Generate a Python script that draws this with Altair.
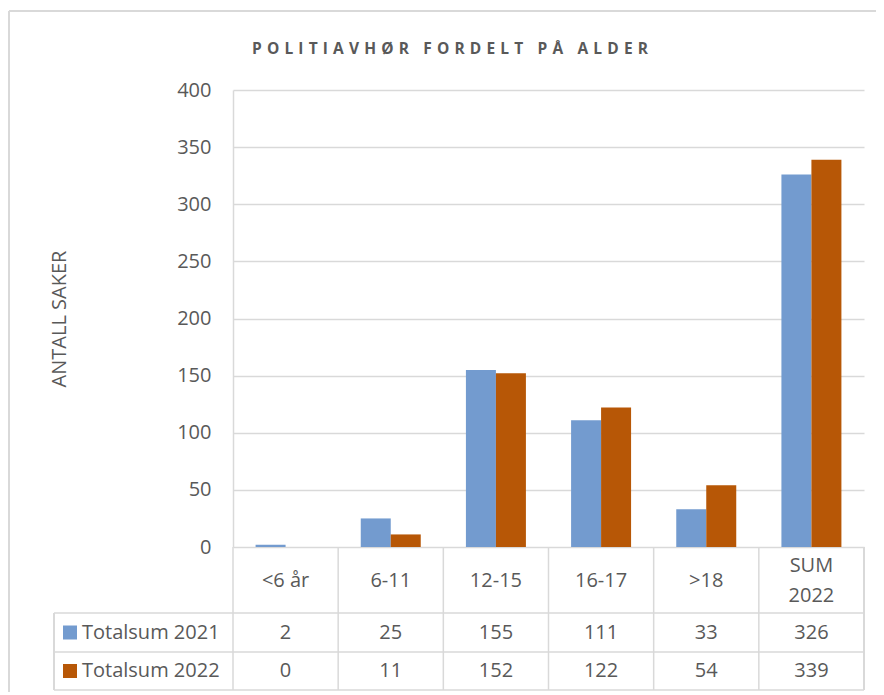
import altair as alt
import pandas as pd

# ---- data ----
categories = ["<6 år", "6-11", "12-15", "16-17", ">18", "SUM 2022"]
category_labels = ["<6 år", "6-11", "12-15", "16-17", ">18", "SUM\n2022"]
series = ["Totalsum 2021", "Totalsum 2022"]
values_2021 = [2, 25, 155, 111, 33, 326]
values_2022 = [0, 11, 152, 122, 54, 339]
y_ticks = [0, 50, 100, 150, 200, 250, 300, 350, 400]
colors = ["#739BCF", "#B75706"]
title_text = "POLITIAVHØR FORDELT PÅ ALDER"
y_title = "ANTALL SAKER"

# ---- layout constants (pixels) ----
W, H = 631, 457
PL, PT, PR, PB = 225, 82, 12, 145
ROW_TOP = [457, 523, 562, 600]          # table row boundaries (plot coords)
LEG_X = -179                             # left edge of legend column
FRAME_X, FRAME_Y = -224, -79
LINE_H = 30
GRID = "#D9D9D9"
TXT = "#595959"
FONT = "Open Sans"

rows = []
for s, vals in zip(series, [values_2021, values_2022]):
    for c, v in zip(categories, vals):
        rows.append({"cat": c, "series": s, "value": v})
df = pd.DataFrame(rows)

row_center = {series[0]: (ROW_TOP[1] + ROW_TOP[2]) / 2,
              series[1]: (ROW_TOP[2] + ROW_TOP[3]) / 2}
df["py"] = df["series"].map(row_center)

cat_df = pd.DataFrame({"cat": categories, "label": category_labels})
cat_center = (ROW_TOP[0] + ROW_TOP[1]) / 2 + 1
cat_df["py"] = [cat_center - (lab.count("\n")) * LINE_H / 2 for lab in category_labels]
leg_df = pd.DataFrame({"series": series})
leg_df["py"] = leg_df["series"].map(row_center)
hline_df = pd.DataFrame({"py": ROW_TOP[1:]})

xscale = alt.Scale(domain=categories, paddingInner=0, paddingOuter=0)
color_scale = alt.Scale(domain=series, range=colors)

base = alt.Chart(df)

bars = base.mark_bar().encode(
    x=alt.X("cat:N", sort=categories, scale=xscale, axis=None),
    xOffset=alt.XOffset("series:N", sort=series,
                        scale=alt.Scale(paddingOuter=0.753, paddingInner=0)),
    y=alt.Y("value:Q",
            scale=alt.Scale(domain=[0, 400], nice=False),
            axis=alt.Axis(values=y_ticks, grid=True, gridColor=GRID, gridWidth=1.5,
                          domainColor=GRID, domainWidth=1.5, ticks=False,
                          labelFont=FONT, labelFontSize=20, labelColor=TXT,
                          labelPadding=22,
                          title=y_title, titleFont=FONT, titleFontSize=20,
                          titleFontWeight="normal", titleColor=TXT,
                          titleX=-174, titleY=H / 2, titleAngle=-90,
                          titleAlign="center", titleBaseline="middle")),
    color=alt.Color("series:N", scale=color_scale, legend=None),
)

# table: category labels
cat_text = alt.Chart(cat_df).mark_text(
    font=FONT, fontSize=20, color=TXT, lineBreak="\n", lineHeight=LINE_H,
    baseline="middle", align="center"
).encode(
    x=alt.X("cat:N", sort=categories, scale=xscale, axis=None),
    y=alt.Y("py:Q", scale=None),
    text="label:N",
)

# table: values
val_text = base.mark_text(
    font=FONT, fontSize=20, color=TXT, baseline="middle", align="center"
).encode(
    x=alt.X("cat:N", sort=categories, scale=xscale, axis=None),
    y=alt.Y("py:Q", scale=None),
    text="value:Q",
)

# table: vertical lines
vlines = alt.Chart(cat_df).mark_rule(color=GRID, strokeWidth=1.5).encode(
    x=alt.X("cat:N", sort=categories, scale=xscale, axis=None, bandPosition=0),
    y=alt.value(ROW_TOP[0]),
    y2=alt.value(ROW_TOP[3]),
)
right_line = alt.Chart(cat_df).mark_rule(color=GRID, strokeWidth=1.5).encode(
    x=alt.value(W), y=alt.value(ROW_TOP[0]), y2=alt.value(ROW_TOP[3]))
leg_left = alt.Chart(cat_df).mark_rule(color=GRID, strokeWidth=1.5).encode(
    x=alt.value(LEG_X), y=alt.value(ROW_TOP[1]), y2=alt.value(ROW_TOP[3]))
hlines = alt.Chart(hline_df).mark_rule(color=GRID, strokeWidth=1.5).encode(
    x=alt.value(LEG_X), x2=alt.value(W), y=alt.Y("py:Q", scale=None))

# legend keys in table
leg_sq = alt.Chart(leg_df).mark_square(size=196, opacity=1).encode(
    x=alt.value(-163),
    y=alt.Y("py:Q", scale=None),
    color=alt.Color("series:N", scale=color_scale, legend=None),
)
leg_txt = alt.Chart(leg_df).mark_text(
    font=FONT, fontSize=20, color=TXT, baseline="middle", align="left"
).encode(
    x=alt.value(-151),
    y=alt.Y("py:Q", scale=None),
    text="series:N",
)

# outer frame
frame_top = alt.Chart(cat_df).mark_rule(color=GRID, strokeWidth=1.5).encode(
    x=alt.value(FRAME_X), x2=alt.value(W + PR + 20), y=alt.value(FRAME_Y))
frame_left = alt.Chart(cat_df).mark_rule(color=GRID, strokeWidth=1.5).encode(
    x=alt.value(FRAME_X), y=alt.value(FRAME_Y), y2=alt.value(H + PB + 20))

# chart title (letter-spaced)
SP = "\u2004"
spaced = (SP + " " + SP).join(SP.join(w) for w in title_text.split(" "))
title = alt.Chart(pd.DataFrame({"t": [spaced]})).mark_text(
    font=FONT, fontSize=15.5, fontWeight="bold", color=TXT,
    baseline="middle", align="center"
).encode(x=alt.value(217), y=alt.value(-41), text="t:N")

chart = alt.layer(
    frame_top, frame_left, title,
    bars, vlines, right_line, leg_left, hlines,
    cat_text, val_text, leg_sq, leg_txt,
).properties(
    width=W, height=H,
    autosize=alt.AutoSizeParams(type="none"),
    padding={"left": PL, "top": PT, "right": PR, "bottom": PB},
    background="white",
).configure_view(stroke=None)

chart.save("out.html", embed_options={"renderer": "svg", "actions": False})
